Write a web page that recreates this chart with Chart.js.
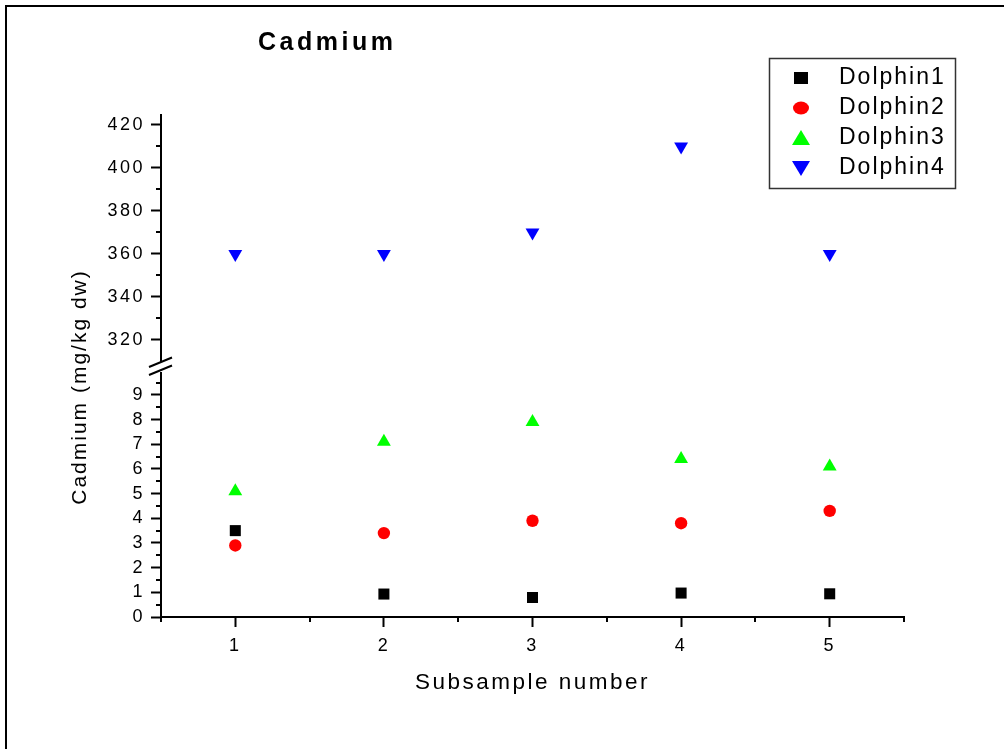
<!DOCTYPE html>
<html>
<head>
<meta charset="utf-8">
<title>Cadmium</title>
<script src="https://cdn.jsdelivr.net/npm/chart.js@4.4.0/dist/chart.umd.min.js"></script>
<style>
  html, body { margin: 0; padding: 0; background: #fff; }
  canvas { display: block; }
</style>
</head>
<body>
<canvas id="chart" width="1004" height="749"></canvas>
<script>
// values
var subsamples = [1, 2, 3, 4, 5];
var dolphin1 = [3.5, 0.93, 0.79, 0.97, 0.94];
var dolphin2 = [2.9, 3.4, 3.9, 3.8, 4.3];
var dolphin3 = [5.1, 7.1, 7.9, 6.4, 6.1];
var dolphin4 = [360, 360, 370, 410, 360];

// tick labels
var xTicks = [1, 2, 3, 4, 5];
var xMinor = [0.5, 1.5, 2.5, 3.5, 4.5, 5.5];
var lowTicks = [0, 1, 2, 3, 4, 5, 6, 7, 8, 9];
var lowMinor = [0.5, 1.5, 2.5, 3.5, 4.5, 5.5, 6.5, 7.5, 8.5, 9.5];
var highTicks = [320, 340, 360, 380, 400, 420];
var highMinor = [330, 350, 370, 390, 410];

var FONT = '"Liberation Sans", Arial, sans-serif';
Chart.defaults.font.family = FONT;
Chart.defaults.color = '#000';

function points(ys) {
    return subsamples.map(function (x, i) { return { x: x, y: ys[i] }; });
}
function fixedTicks(list) {
    return function (scale) {
        scale.ticks = list.map(function (v) { return { value: v }; });
    };
}
function axisStyle() {
    return {
        grid: { drawOnChartArea: false, drawTicks: true, tickLength: 10, tickColor: '#000', tickWidth: 2 },
        border: { display: true, color: '#000', width: 2 }
    };
}
function tickFont(pad) {
    return { color: '#000', font: { size: 18 }, padding: pad, autoSkip: false, maxRotation: 0 };
}

var yLow = Object.assign(axisStyle(), {
    type: 'linear', position: 'left', stack: 'cd', stackWeight: 250,
    min: 0, max: 10.13,
    afterBuildTicks: fixedTicks(lowTicks),
    afterFit: function (s) { s.width = 155; },
    ticks: tickFont(6)
});
var yHigh = Object.assign(axisStyle(), {
    type: 'linear', position: 'left', stack: 'cd', stackWeight: 252,
    min: 307.44, max: 424.6,
    afterBuildTicks: fixedTicks(highTicks),
    afterFit: function (s) { s.width = 155; },
    ticks: tickFont(6)
});
var xAxis = Object.assign(axisStyle(), {
    type: 'linear', position: 'bottom', min: 0.5, max: 5.5,
    afterBuildTicks: fixedTicks(xTicks),
    afterFit: function (s) { s.height = 132; },
    ticks: tickFont(8),
    title: { display: true, text: 'Subsample number', color: '#000', font: { size: 22.5 }, padding: { top: 0, bottom: 53 } }
});

function drawMinor(chart) {
    var ctx = chart.ctx, a = chart.chartArea;
    ctx.save();
    ctx.strokeStyle = '#000';
    ctx.lineWidth = 2;
    ctx.beginPath();
    lowMinor.forEach(function (v) {
        var p = Math.round(chart.scales.y.getPixelForValue(v));
        ctx.moveTo(a.left - 5, p); ctx.lineTo(a.left, p);
    });
    highMinor.forEach(function (v) {
        var p = Math.round(chart.scales.y2.getPixelForValue(v));
        ctx.moveTo(a.left - 5, p); ctx.lineTo(a.left, p);
    });
    xMinor.forEach(function (v) {
        var p = Math.round(chart.scales.x.getPixelForValue(v));
        ctx.moveTo(p, a.bottom); ctx.lineTo(p, a.bottom + 5);
    });
    ctx.stroke();
    ctx.restore();
}

function drawBreak(chart) {
    var ctx = chart.ctx;
    var L = chart.chartArea.left, J = chart.scales.y2.bottom;
    ctx.save();
    ctx.fillStyle = '#fff';
    ctx.fillRect(L - 3, J - 5, 6, 10);
    ctx.strokeStyle = '#000';
    ctx.lineWidth = 2;
    ctx.beginPath();
    ctx.moveTo(L - 12, J); ctx.lineTo(L + 11, J - 9.5);
    ctx.moveTo(L - 12, J + 8); ctx.lineTo(L + 11, J - 1.5);
    ctx.stroke();
    ctx.restore();
}

function legendSymbol(ctx, i, x, y, color) {
    ctx.fillStyle = color;
    ctx.beginPath();
    if (i === 0) {
        ctx.rect(x - 7, y - 6, 14, 12);
    } else if (i === 1) {
        ctx.ellipse(x, y, 8, 6.5, 0, 0, Math.PI * 2);
    } else if (i === 2) {
        ctx.moveTo(x, y - 8); ctx.lineTo(x + 9, y + 7); ctx.lineTo(x - 9, y + 7);
    } else {
        ctx.moveTo(x, y + 8); ctx.lineTo(x + 9, y - 7); ctx.lineTo(x - 9, y - 7);
    }
    ctx.closePath();
    ctx.fill();
}

var decorations = {
    id: 'decorations',
    beforeDraw: function (chart) {
        var ctx = chart.ctx;
        ctx.save();
        ctx.fillStyle = '#fff';
        ctx.fillRect(0, 0, chart.width, chart.height);
        ctx.restore();
        ctx.letterSpacing = '2.5px';
    },
    afterDraw: function (chart) {
        var ctx = chart.ctx;
        drawMinor(chart);
        drawBreak(chart);

        ctx.save();
        // frame
        ctx.fillStyle = '#000';
        ctx.fillRect(5, 5, chart.width - 5, 2);
        ctx.fillRect(5, 5, 2, chart.height - 5);

        // title
        ctx.letterSpacing = '3.5px';
        ctx.font = 'bold 25px ' + FONT;
        ctx.textAlign = 'left';
        ctx.textBaseline = 'middle';
        ctx.fillText('Cadmium', 258, 43);

        // y axis title, spans both halves
        ctx.letterSpacing = '2px';
        ctx.font = '21px ' + FONT;
        ctx.save();
        ctx.translate(80, 387);
        ctx.rotate(-Math.PI / 2);
        ctx.textAlign = 'center';
        ctx.fillText('Cadmium (mg/kg dw)', 0, 0);
        ctx.restore();

        // legend
        ctx.strokeStyle = '#333';
        ctx.lineWidth = 1.5;
        ctx.strokeRect(769.5, 58.5, 186, 130);
        ctx.font = '23px ' + FONT;
        ctx.textAlign = 'left';
        chart.data.datasets.forEach(function (ds, i) {
            var y = 78 + i * 30;
            legendSymbol(ctx, i, 801, y, ds.backgroundColor);
            ctx.fillStyle = '#000';
            ctx.fillText(ds.label, 839, y);
        });
        ctx.restore();
    }
};

new Chart(document.getElementById('chart'), {
    type: 'scatter',
    data: {
        datasets: [
            {
                label: 'Dolphin1', data: points(dolphin1), yAxisID: 'y',
                pointStyle: 'rect', pointRadius: 7.8, backgroundColor: '#000000',
                borderColor: '#000000', borderWidth: 0
            }, {
                label: 'Dolphin2', data: points(dolphin2), yAxisID: 'y',
                pointStyle: 'circle', pointRadius: 6.2, backgroundColor: '#ff0000',
                borderColor: '#ff0000', borderWidth: 0
            }, {
                label: 'Dolphin3', data: points(dolphin3), yAxisID: 'y',
                pointStyle: 'triangle', pointRadius: 8, backgroundColor: '#00ff00',
                borderColor: '#00ff00', borderWidth: 0
            }, {
                label: 'Dolphin4', data: points(dolphin4), yAxisID: 'y2',
                pointStyle: 'triangle', rotation: 180, pointRadius: 8, backgroundColor: '#0000ff',
                borderColor: '#0000ff', borderWidth: 0
            }
        ]
    },
    options: {
        responsive: false,
        animation: false,
        events: [],
        layout: { padding: { left: 6, right: 100, top: 115, bottom: 0 } },
        plugins: {
            legend: { display: false },
            title: { display: false },
            tooltip: { enabled: false }
        },
        scales: {
            x: xAxis,
            y: yLow,
            y2: yHigh
        }
    },
    plugins: [decorations]
});
</script>
</body>
</html>
